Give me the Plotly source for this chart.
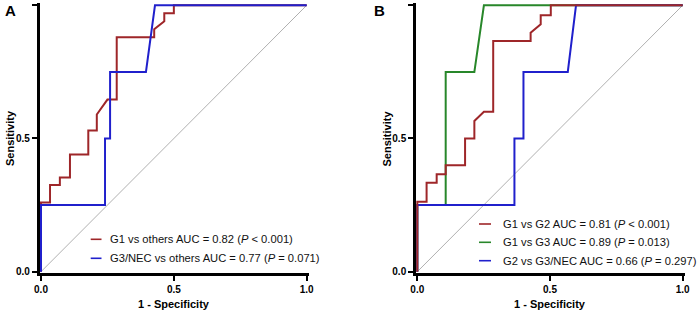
import plotly.graph_objects as go

W, H = 700, 312

# ---- Data (1 - specificity, sensitivity) ----
a_g1_fpr = [0, 0, 0.034, 0.034, 0.071, 0.071, 0.109, 0.109, 0.178, 0.178, 0.21, 0.21, 0.25, 0.285, 0.285, 0.426, 0.426, 0.464, 0.464, 0.50, 0.50, 1.0]
a_g1_tpr = [0, 0.26, 0.26, 0.325, 0.325, 0.354, 0.354, 0.44, 0.44, 0.53, 0.53, 0.59, 0.646, 0.646, 0.88, 0.88, 0.91, 0.94, 0.97, 0.97, 1.0, 1.0]

a_g3_fpr = [0, 0, 0.241, 0.241, 0.26, 0.26, 0.395, 0.429, 1.0]
a_g3_tpr = [0, 0.25, 0.25, 0.5, 0.5, 0.75, 0.75, 1.0, 1.0]

b_g1g2_fpr = [0, 0, 0.035, 0.035, 0.073, 0.073, 0.107, 0.107, 0.18, 0.18, 0.215, 0.215, 0.251, 0.286, 0.286, 0.427, 0.427, 0.465, 0.465, 0.503, 0.503, 1.0]
b_g1g2_tpr = [0, 0.2625, 0.2625, 0.334, 0.334, 0.366, 0.366, 0.40, 0.40, 0.5, 0.5, 0.566, 0.60, 0.60, 0.866, 0.866, 0.897, 0.929, 0.9625, 0.9625, 1.0, 1.0]

b_g1g3_fpr = [0, 0, 0.107, 0.107, 0.215, 0.251, 1.0]
b_g1g3_tpr = [0, 0.25, 0.25, 0.75, 0.75, 1.0, 1.0]

b_g2g3_fpr = [0, 0, 0.366, 0.366, 0.40, 0.40, 0.567, 0.598, 1.0]
b_g2g3_tpr = [0, 0.25, 0.25, 0.5, 0.5, 0.75, 0.75, 1.0, 1.0]

ref_line = [0, 1]

legend_a = ["G1 vs others AUC = 0.82 (<i>P</i> &lt; 0.001)",
            "G3/NEC vs others AUC = 0.77 (<i>P</i> = 0.071)"]
legend_b = ["G1 vs G2 AUC = 0.81 (<i>P</i> &lt; 0.001)",
            "G1 vs G3 AUC = 0.89 (<i>P</i> = 0.013)",
            "G2 vs G3/NEC AUC = 0.66 (<i>P</i> = 0.297)"]

tick_vals = [0, 0.5, 1.0]
tick_text = ["0.0", "0.5", "1.0"]

RED = "#9e2629"
BLUE = "#2020cc"
GREEN = "#28872a"
GREY = "#b0b0b0"
FONT = "Liberation Sans, Arial, sans-serif"

def px(x):
    return x / W

def py(y):
    return 1 - y / H

fig = go.Figure()

def line_trace(x, y, color, width, xa, ya):
    fig.add_trace(go.Scatter(x=x, y=y, mode="lines", line=dict(color=color, width=width),
                             xaxis=xa, yaxis=ya, showlegend=False, hoverinfo="skip"))

# Panel A
line_trace(ref_line, ref_line, GREY, 1, "x", "y")
line_trace(a_g1_fpr, a_g1_tpr, RED, 2, "x", "y")
line_trace(a_g3_fpr, a_g3_tpr, BLUE, 2, "x", "y")
# Panel B
line_trace(ref_line, ref_line, GREY, 1, "x2", "y2")
line_trace(b_g1g3_fpr, b_g1g3_tpr, GREEN, 2, "x2", "y2")
line_trace(b_g2g3_fpr, b_g2g3_tpr, BLUE, 2, "x2", "y2")
line_trace(b_g1g2_fpr, b_g1g2_tpr, RED, 2, "x2", "y2")

RLO, RHI = -0.005, 1.01

def xdom(p0, p1):
    s = p1 - p0
    return [px(p0 + RLO * s), px(p0 + RHI * s)]

y0p, y1p = 271.7, 5.3
sy = y0p - y1p
ydom = [py(y0p - RLO * sy), py(y0p - RHI * sy)]

axis_common = dict(range=[RLO, RHI], tickvals=tick_vals, ticktext=tick_text,
                   showline=True, linecolor="black", linewidth=2.5,
                   ticks="outside", ticklen=5, tickwidth=2, tickcolor="black",
                   showgrid=False, zeroline=False, layer="below traces",
                   automargin=False,
                   tickfont=dict(family=FONT, size=10, color="black", weight="bold"),
                   fixedrange=True)

fig.update_layout(
    template="none",
    width=W, height=H, margin=dict(l=0, r=0, t=0, b=0, autoexpand=False),
    paper_bgcolor="white", plot_bgcolor="white",
    xaxis=dict(domain=xdom(41, 306.7), anchor="y", **axis_common),
    yaxis=dict(domain=ydom, anchor="x", **axis_common),
    xaxis2=dict(domain=xdom(417.3, 682.7), anchor="y2", **axis_common),
    yaxis2=dict(domain=ydom, anchor="x2", **axis_common),
    showlegend=False,
)

ann = []
shapes = []

def text(x, y, t, size=11, bold=False, angle=0, xanchor="center", color="black"):
    ann.append(dict(x=px(x), y=py(y), xref="paper", yref="paper", text=t, showarrow=False,
                    textangle=angle, xanchor=xanchor, yanchor="middle",
                    font=dict(family=FONT, size=size, color=color,
                              weight="bold" if bold else "normal")))

# Panel letters
text(3, 10, "A", size=15, bold=True, xanchor="left")
text(372, 10, "B", size=15, bold=True, xanchor="left")
# Axis titles
text(173.9, 304, "1 - Specificity", size=11, bold=True)
text(550, 304, "1 - Specificity", size=11, bold=True)
text(9.5, 138.5, "Sensitivity", size=11, bold=True, angle=-90)
text(386, 138.5, "Sensitivity", size=11, bold=True, angle=-90)

# Legends (manual)
for yy, col, t in zip([239.3, 258.3], [RED, BLUE], legend_a):
    shapes.append(dict(type="line", xref="paper", yref="paper", x0=px(90.7), x1=px(101.5),
                       y0=py(yy), y1=py(yy), line=dict(color=col, width=1.6)))
    text(107.5, yy, t, size=11.2, xanchor="left", color="#111111")
for yy, col, t in zip([224, 242.3, 260.7], [RED, GREEN, BLUE], legend_b):
    shapes.append(dict(type="line", xref="paper", yref="paper", x0=px(479), x1=px(491),
                       y0=py(yy), y1=py(yy), line=dict(color=col, width=1.6)))
    text(501, yy, t, size=11.2, xanchor="left", color="#111111")

fig.update_layout(annotations=ann, shapes=shapes)
fig.write_html("out.html")
